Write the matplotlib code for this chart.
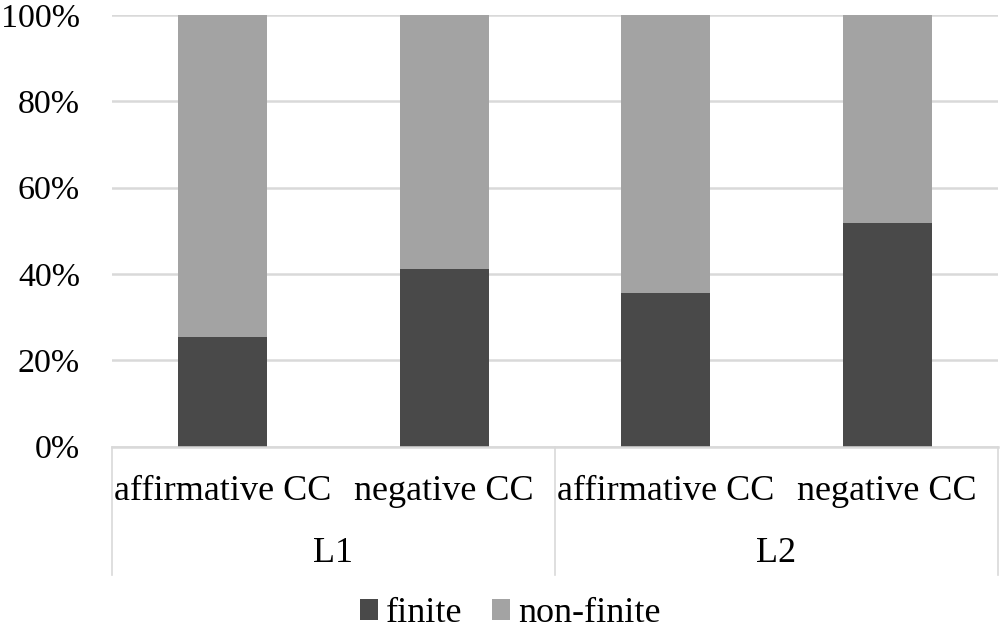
import matplotlib
matplotlib.use("Agg")
import matplotlib.pyplot as plt
import matplotlib.transforms as mtransforms
from matplotlib.patches import Patch

# data
categories = ["affirmative CC", "negative CC", "affirmative CC", "negative CC"]
groups = ["L1", "L2"]
finite = [25.3, 41.2, 35.6, 51.9]
non_finite = [100 - v for v in finite]
yticks = [0, 20, 40, 60, 80, 100]

dark = "#494949"
light = "#a3a3a3"
grid_col = "#d9d9d9"

plt.rcParams['font.family'] = ['Liberation Serif', 'DejaVu Serif']

fig = plt.figure(figsize=(10, 6.32), dpi=100)
ax = fig.add_axes([0.112, 0.2935, 0.886, 0.6825])

x = list(range(len(categories)))
ax.bar(x, finite, width=0.4, color=dark, zorder=3)
ax.bar(x, non_finite, width=0.4, bottom=finite, color=light, zorder=3)

ax.set_xlim(-0.5, len(categories) - 0.5)
ax.set_ylim(0, 100)
ax.set_yticks(yticks)
ax.set_yticklabels([f"{t}%" for t in yticks], fontsize=24.5)
ax.tick_params(axis='y', length=0, pad=23)
ax.set_xticks([])
ax.yaxis.grid(True, color=grid_col, linewidth=1.8, zorder=0)
ax.set_axisbelow(True)
for s in ax.spines.values():
    s.set_visible(False)

# category table below the axis
trans = mtransforms.blended_transform_factory(ax.transData, ax.transAxes)
ax.plot([-0.5, 3.5], [0, 0], color=grid_col, lw=1.8, transform=trans, clip_on=False, zorder=4)
for xv in [-0.5, 1.5, 3.5]:
    ax.plot([xv, xv], [0, -0.298], color=grid_col, lw=1.2, transform=trans, clip_on=False)

for xi, lab in zip(x, categories):
    ax.text(xi, -0.104, lab, transform=trans, ha='center', va='center', fontsize=26)
for gi, g in enumerate(groups):
    ax.text(gi * 2 + 0.5, -0.248, g, transform=trans, ha='center', va='center', fontsize=26)

handles = [Patch(facecolor=dark, label="finite"), Patch(facecolor=light, label="non-finite")]
fig.legend(handles=handles, loc='center', bbox_to_anchor=(0.51, 1 - 614 / 632), ncol=2,
           frameon=False, fontsize=26, handlelength=0.5, handleheight=0.5,
           handletextpad=0.22, columnspacing=0.83, borderpad=0.1)

fig.savefig("out.png", dpi=100)
